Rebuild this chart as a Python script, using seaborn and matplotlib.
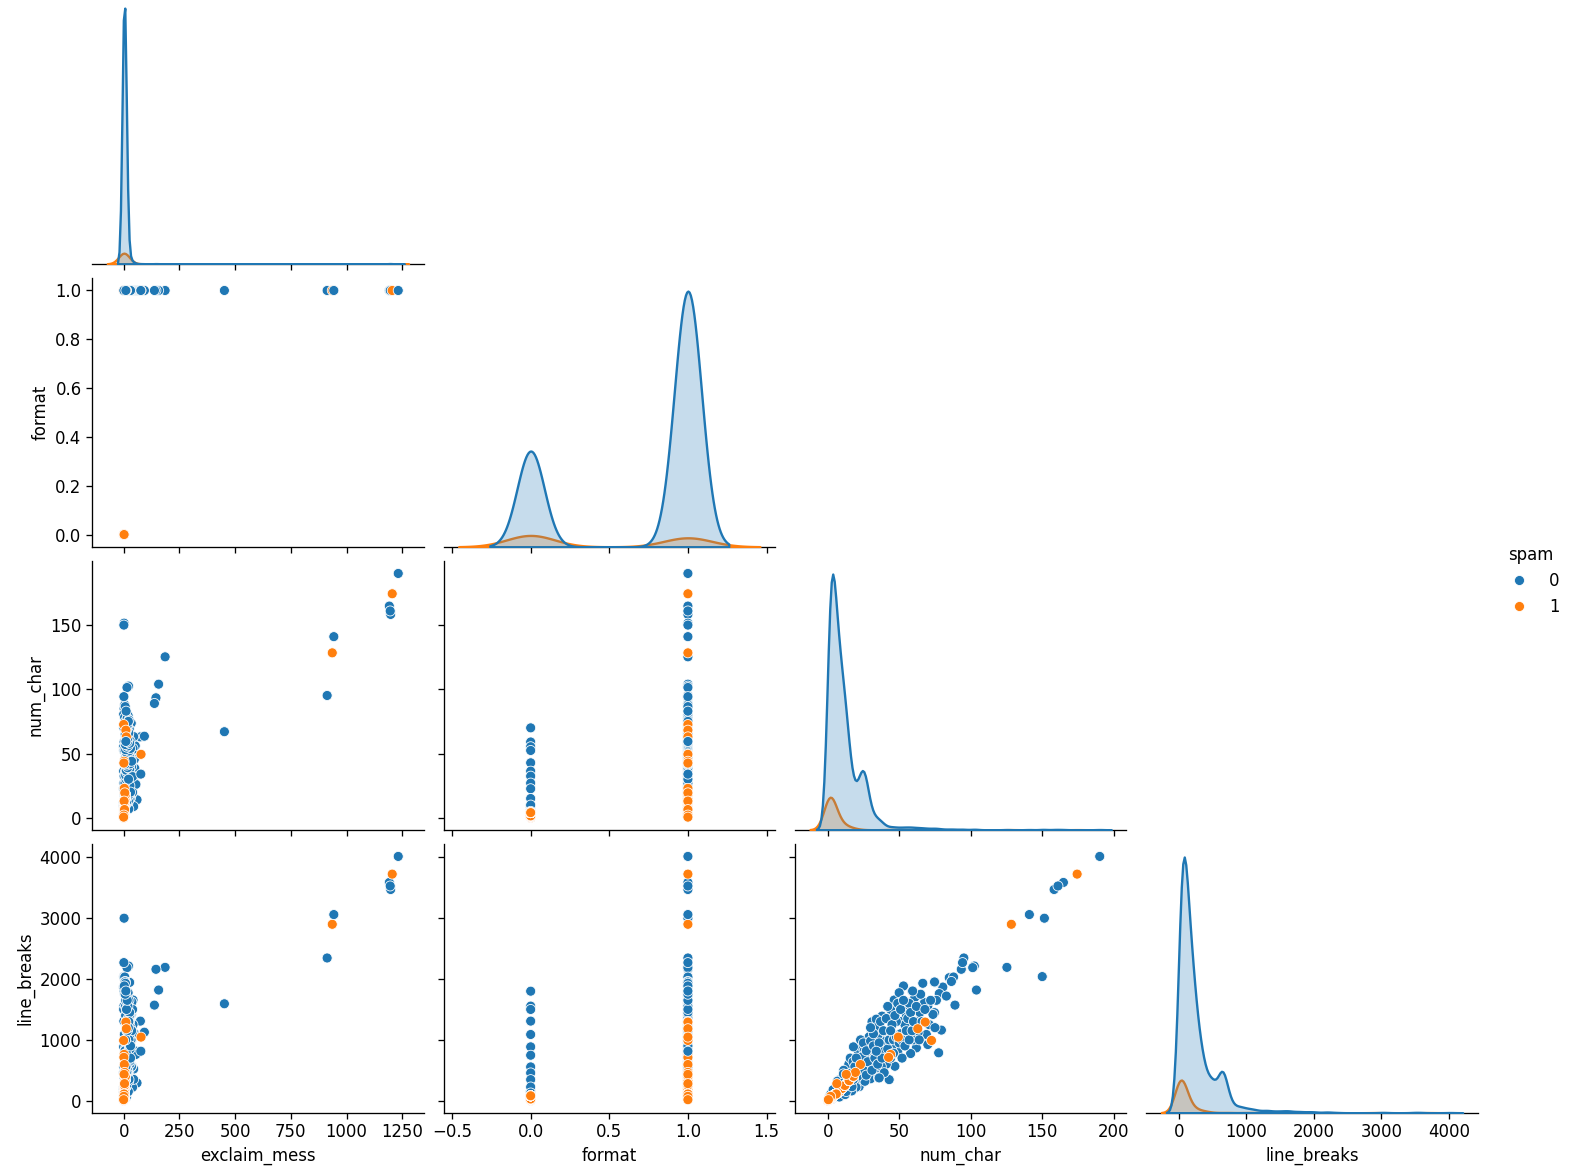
import numpy as np
import pandas as pd
import matplotlib
matplotlib.use("Agg")
import matplotlib.pyplot as plt
import seaborn as sns

VARS = ["exclaim_mess", "format", "num_char", "line_breaks"]
HUE = "spam"

# ---- ham (spam = 0): frequent value combinations with their message counts ----
ham_core_num_char = [0.5, 1.0, 1.5, 2.0, 2.5, 3.0, 3.5, 4.0, 4.5,
                     5.5, 6.5, 7.5, 8.5, 9.5, 6.0, 8.0, 9.0, 7.0, 5.5,
                     10.5, 11.5, 12.5, 13.5, 14.5, 11.0, 13.0, 12.0,
                     15.5, 16.5, 17.5, 18.5, 19.5,
                     21.0, 22.5, 24.0, 25.0, 26.0, 27.0, 28.0, 29.5, 23.0, 22.0, 24.0,
                     31.0, 33.0, 35.0, 37.0, 32.0, 34.0, 36.0, 38.0, 39.0]
ham_core_line_breaks = [12, 25, 35, 45, 55, 65, 75, 85, 95,
                        105, 125, 145, 165, 185, 180, 220, 120, 95, 150,
                        205, 230, 255, 280, 300, 330, 360, 190,
                        320, 350, 380, 420, 460,
                        480, 520, 600, 630, 650, 670, 700, 740, 380, 470, 540,
                        780, 850, 900, 950, 560, 450, 620, 1050, 700]
ham_core_exclaim = [0, 1, 0, 1, 0, 2, 0, 1, 0,
                    2, 1, 0, 3, 2, 4, 3, 1, 2, 1,
                    3, 2, 4, 3, 5, 2, 4, 1,
                    5, 4, 6, 5, 7,
                    6, 5, 8, 6, 7, 8, 6, 9, 4, 5, 6,
                    8, 10, 9, 12, 7, 6, 8, 11, 10]
ham_core_format = [0, 1, 0, 1, 0, 1, 0, 1, 0,
                   1, 1, 0, 1, 1, 1, 1, 0, 0, 0,
                   1, 1, 1, 1, 1, 1, 1, 1,
                   1, 1, 1, 1, 1,
                   1, 1, 1, 1, 1, 1, 1, 1, 1, 1, 1,
                   1, 1, 1, 1, 1, 1, 1, 1, 1]
ham_core_count = [110, 160, 185, 190, 185, 165, 140, 115, 90,
                  120, 130, 125, 110, 100, 60, 60, 50, 40, 45,
                  100, 95, 105, 90, 60, 20, 25, 40,
                  50, 45, 40, 35, 30,
                  35, 35, 45, 55, 65, 50, 30, 25, 25, 30, 30,
                  12, 10, 8, 6, 8, 6, 6, 5, 4]

# ---- ham: individual messages ----
ham_num_char = [70, 59, 55.3, 52.4, 42.8, 36.3, 32.4, 27, 22.6, 15, 9.9, 5, 0.2,
                164.8, 158.3, 161, 95.2, 151.5, 150, 125.3, 104, 93.4, 89, 67, 63, 63.5, 14,
                102.5, 101.4, 85, 88, 80.5, 75, 86.5, 78, 74.7, 66.5, 53, 46.5, 58.3, 67.7,
                74.7, 79.5, 77.6, 73.6, 69, 70, 62, 58, 56, 55, 63.2, 61, 50, 51, 54, 57, 60, 48, 49,
                47, 45, 44, 43, 41, 45.5, 52, 64.5, 71, 76, 83,
                20.5, 20.8, 21.5, 22.0, 23.5, 24.5, 25.5, 26.5, 27.5, 28.5, 29.0, 30.0, 30.5, 31.5,
                32.5, 33.5, 34.5, 35.5, 36.5, 37.5, 38.0, 38.5, 39.5, 40.0,
                18.0, 28.0, 31.0, 26.0, 34.0, 35.0, 40.6, 36.0, 26.0, 19.0, 10.0,
                1.2, 2.2, 3.2, 4.2, 5.0, 6.2, 7.2, 8.2, 9.2, 10.2, 10.8, 11.8, 12.8, 13.8, 14.2,
                15.2, 16.2, 17.2, 18.2, 19.2, 19.8, 16.8, 8.8, 14.8, 12.2, 15.8, 17.8, 11.2, 6.8, 3.8,
                21, 22.5, 24, 25, 27, 28, 29, 23, 25, 27,
                30, 31, 32, 33, 34, 35, 36, 37, 38, 39, 32, 30,
                41, 42, 43, 44, 45, 46, 47, 48, 49, 50, 42, 46, 44,
                51, 52, 53, 54, 55, 56, 57, 58, 59, 60,
                62, 64, 66, 68, 72, 75, 65,
                10.5, 12, 13, 14, 16, 17, 18, 19, 20, 11]
ham_line_breaks = [1555, 1800, 1500, 1308, 1088, 885, 747, 555, 456, 346, 225, 126, 3,
                   3588, 3472, 3530, 2346, 3000, 2040, 2192, 1819, 2160, 1571, 1593, 1308, 1126, 291,
                   2214, 2187, 2022, 2033, 1868, 1945, 1960, 1760, 1952, 1930, 1886, 1655, 1622, 1612,
                   1447, 1160, 787, 1418, 1088, 923, 868, 775, 1088, 1418, 1115, 1700, 1775, 1100, 1250, 1600, 1000, 1300, 800,
                   566, 900, 1500, 346, 600, 1100, 700, 1450, 1250, 1650, 1720,
                   300, 640, 780, 230, 900, 420, 820, 330, 1000, 520, 880, 360, 1150, 640,
                   1300, 1088, 760, 380, 1200, 560, 1390, 820, 460, 1000,
                   885, 912, 1297, 760, 1340, 1050, 978, 374, 319, 209, 100,
                   60, 110, 30, 140, 60, 200, 250, 60, 300, 130, 380, 170, 420, 200, 480,
                   250, 520, 290, 560, 330, 220, 160, 350, 600, 100, 700, 640, 500, 320, 180,
                   400, 600, 720, 500, 420, 640, 1050, 1000, 950, 820,
                   980, 500, 900, 700, 1200, 600, 950, 1300, 700, 1150, 1100, 1200,
                   1350, 850, 1000, 700, 1250, 1000, 1400, 1050, 1600, 950, 1550, 780, 1150,
                   1500, 1000, 1650, 900, 1150, 1350, 1000, 1450, 1150, 1300,
                   1550, 1000, 1300, 1500, 1650, 1200, 1750,
                   250, 330, 150, 400, 450, 230, 350, 560, 700, 440]
ham_exclaim = [1, 2, 0, 1, 3, 0, 2, 1, 0, 2, 1, 0, 0,
               1192, 1198, 1196, 913, 2, 1, 186, 157, 145, 138, 452, 75, 93, 60,
               22, 15, 2, 5, 0, 27, 7, 4, 6, 8, 3, 42, 37, 12,
               18, 20, 16, 34, 25, 11, 9, 13, 52, 30, 45, 14, 20, 35, 42, 19, 29, 27, 45,
               38, 22, 40, 18, 25, 48, 16, 21, 17, 24, 11,
               12, 25, 18, 33, 20, 15, 38, 22, 17, 45, 26, 14, 30, 19,
               24, 33, 41, 28, 21, 35, 27, 50, 23, 36,
               15, 30, 12, 55, 20, 29, 10, 8, 11, 13, 4,
               3, 5, 2, 8, 4, 10, 6, 12, 9, 15, 20, 7, 18, 25, 11,
               30, 14, 22, 35, 16, 40, 9, 45, 28, 3, 12, 26, 19, 23, 5,
               9, 14, 21, 7, 16, 10, 19, 13, 28, 6,
               11, 17, 25, 9, 31, 15, 20, 12, 27, 18, 40, 22,
               14, 29, 11, 23, 17, 33, 9, 26, 15, 21, 8, 13, 36,
               12, 24, 9, 31, 14, 20, 8, 27, 17, 11,
               19, 9, 23, 13, 16, 21, 7,
               6, 14, 21, 8, 17, 12, 24, 10, 31, 13]
ham_format = [0] * 13 + [1] * (len(ham_num_char) - 13)

# ---- spam (spam = 1): frequent value combinations with their message counts ----
spam_core_num_char = [0.2, 0.8, 1.5, 2.5, 3.5, 5.0, 4.0, 8.0, 10.0, 12.0, 15.0, 18.0, 6.0]
spam_core_line_breaks = [5, 15, 28, 45, 65, 100, 80, 150, 200, 250, 330, 400, 110]
spam_core_exclaim = [0, 0, 1, 1, 2, 2, 2, 3, 5, 4, 6, 8, 2]
spam_core_format = [0, 0, 0, 1, 1, 1, 0, 1, 1, 1, 1, 1, 1]
spam_core_count = [60, 70, 60, 45, 30, 20, 15, 15, 12, 10, 8, 5, 3]

# ---- spam: individual messages ----
spam_num_char = [174.4, 128.4, 72.6, 68.2, 63.0, 49.4, 44.0, 42.6, 22.9, 19.4, 13.0, 6.4, 2.1, 0.5]
spam_line_breaks = [3725, 2900, 990, 1292, 1183, 1045, 760, 712, 594, 465, 432, 280, 71, 16]
spam_exclaim = [1205, 936, 0, 10, 12, 78, 2, 1, 3, 5, 2, 4, 1, 0]
spam_format = [1] * 14

# ---- ham: messages that come after the spam rows in the file ----
ham_late_num_char = [94.3, 59.4, 34, 141, 190.2]
ham_late_line_breaks = [2270, 1803, 813, 3060, 4016]
ham_late_exclaim = [1, 10, 77, 943, 1232]
ham_late_format = [1, 1, 1, 1, 1]


def block(exclaim, fmt, nchar, lbreaks, label, count=None):
    d = pd.DataFrame({"exclaim_mess": exclaim, "format": fmt,
                      "num_char": nchar, "line_breaks": lbreaks})
    d[HUE] = label
    if count is not None:
        d = d.loc[d.index.repeat(count)]
    return d.reset_index(drop=True)


df = pd.concat([
    block(ham_core_exclaim, ham_core_format, ham_core_num_char, ham_core_line_breaks, 0, ham_core_count),
    block(ham_exclaim, ham_format, ham_num_char, ham_line_breaks, 0),
    block(spam_core_exclaim, spam_core_format, spam_core_num_char, spam_core_line_breaks, 1, spam_core_count),
    block(spam_exclaim, spam_format, spam_num_char, spam_line_breaks, 1),
    block(ham_late_exclaim, ham_late_format, ham_late_num_char, ham_late_line_breaks, 0),
], ignore_index=True)

plt.rcParams.update({
    "font.family": ["DejaVu Sans"],
    "font.size": 11.9,
    "axes.linewidth": 0.95,
    "xtick.major.size": 4.2, "ytick.major.size": 4.2,
    "xtick.major.width": 0.95, "ytick.major.width": 0.95,
    "legend.fontsize": 11.9, "legend.title_fontsize": 11.9,
})

g = sns.pairplot(df, vars=VARS, hue=HUE, corner=True,
                 plot_kws={"s": 52}, diag_kws={"linewidth": 1.7})

fig = g.figure
fig.set_size_inches(15.69, 11.71)
fig.subplots_adjust(left=0.0588, right=0.9418, bottom=0.0498, top=1.004,
                    wspace=0.0604, hspace=0.054)
g._legend.set_bbox_to_anchor((1.0035, 0.504), transform=fig.transFigure)
fig.savefig("out.png", dpi=100)
